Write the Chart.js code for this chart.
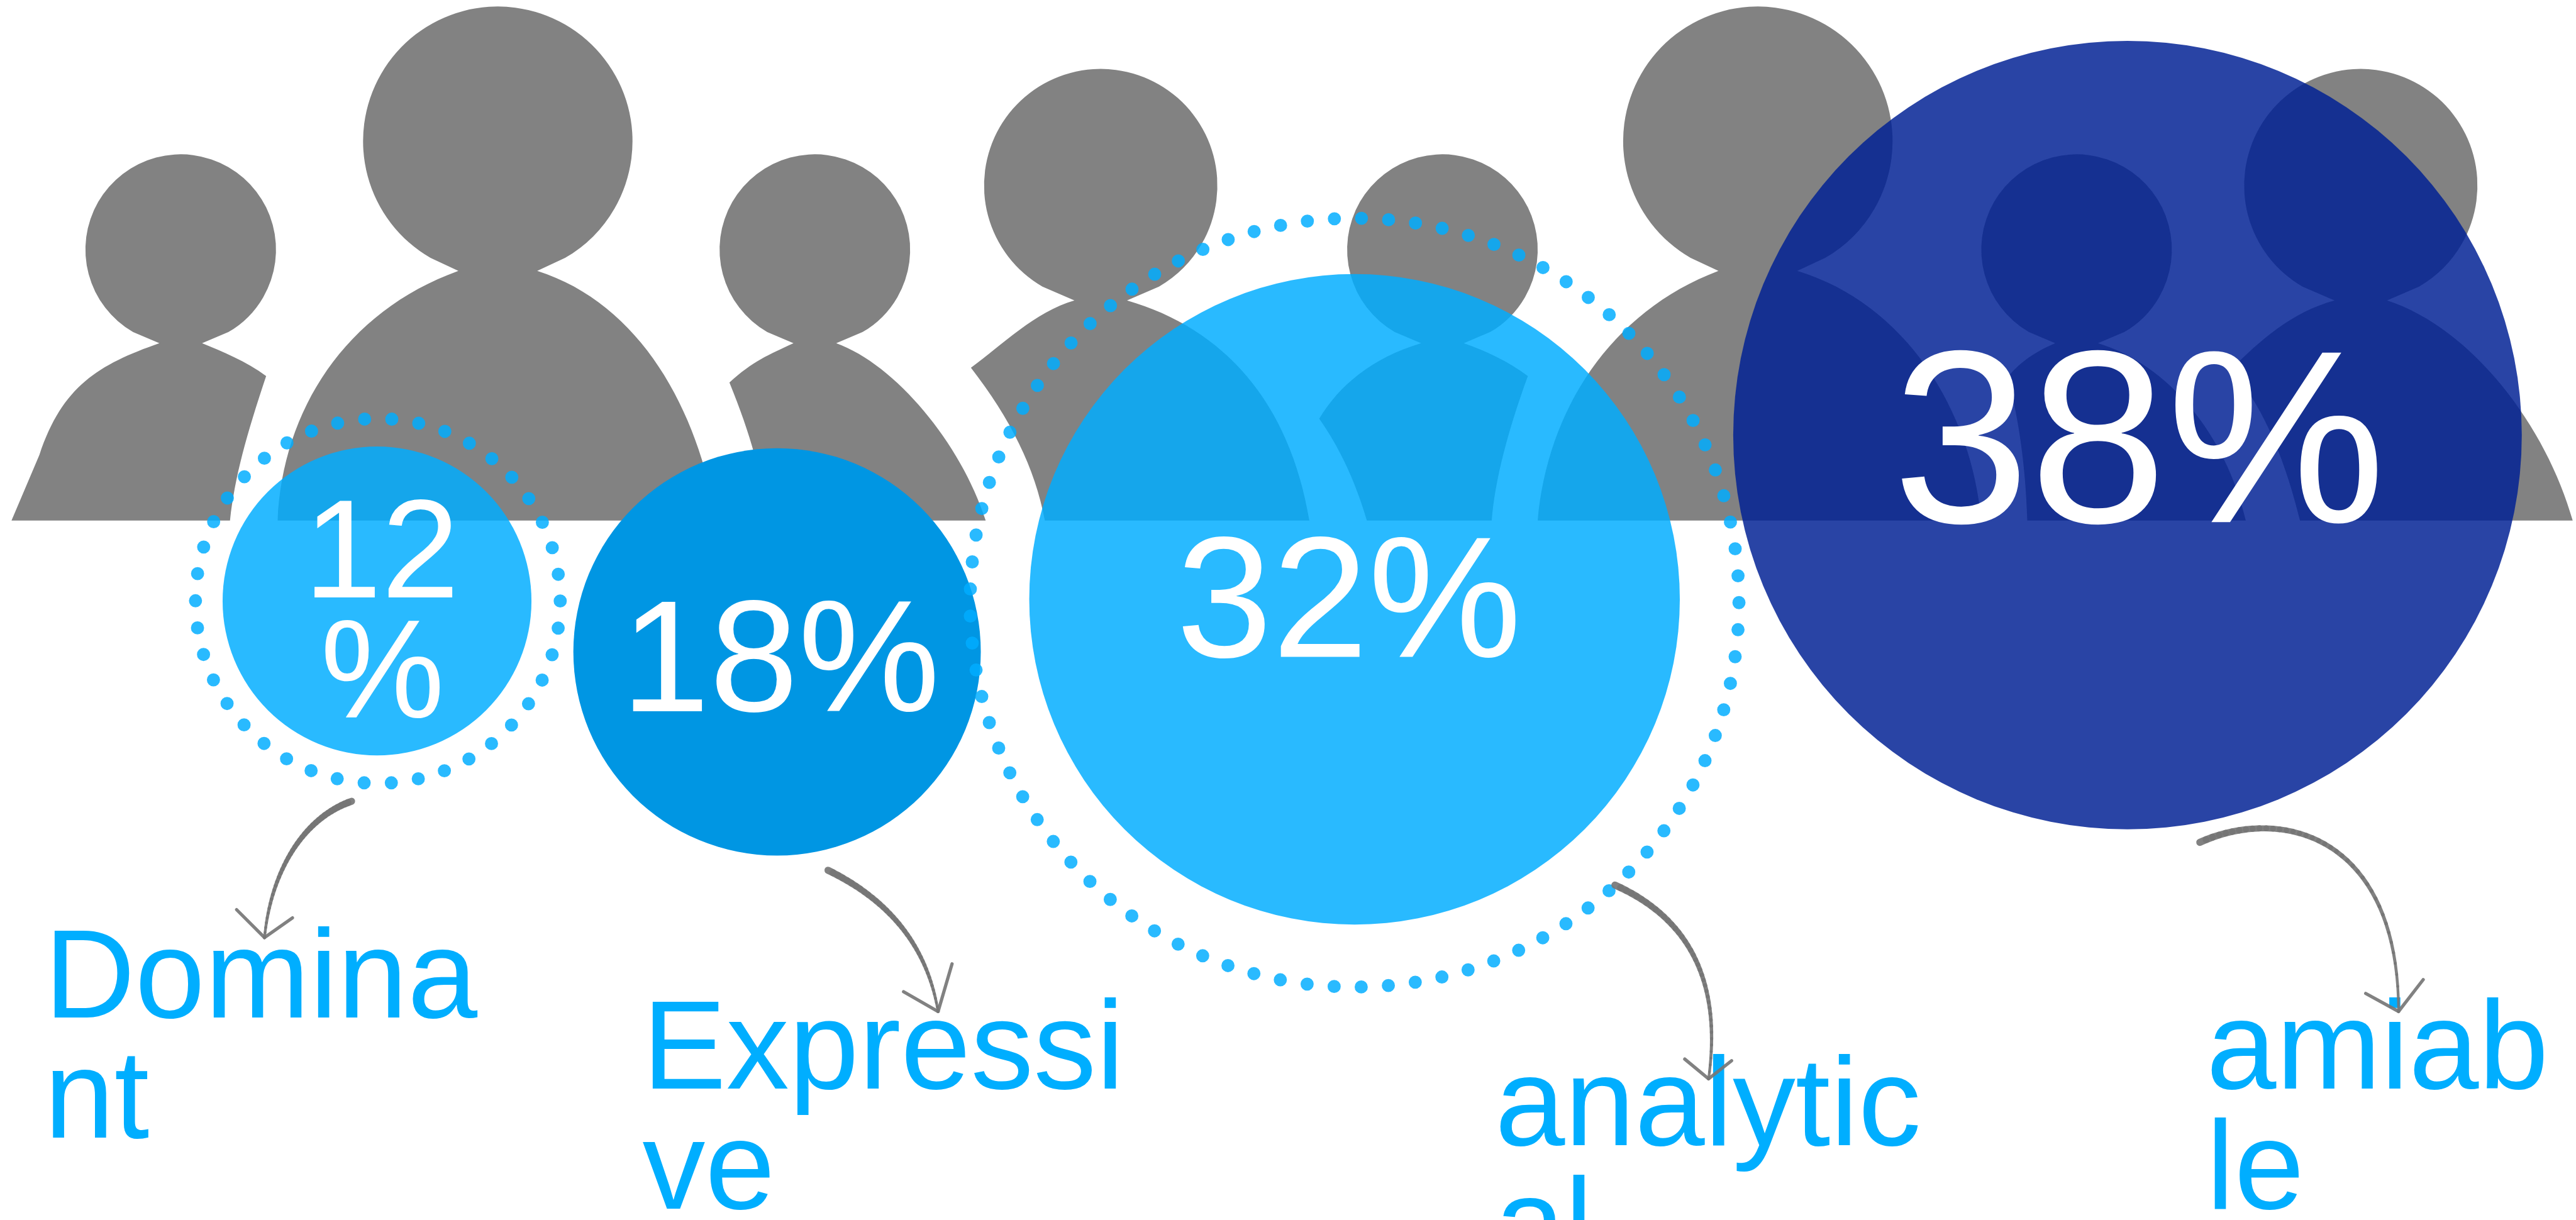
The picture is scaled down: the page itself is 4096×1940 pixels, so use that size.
<!DOCTYPE html>
<html>
<head>
<meta charset="utf-8">
<title>Personality types</title>
<script src="https://cdn.jsdelivr.net/npm/chart.js@4/dist/chart.umd.min.js"></script>
<style>
    html, body { margin: 0; padding: 0; background: #fff; overflow: hidden; }
    #wrap { width: 100vw; height: 100vh; }
</style>
</head>
<body>
<div id="wrap"><canvas id="typesChart"></canvas></div>
<script>
// Chart values
const categories = ['Dominant', 'Expressive', 'analytical', 'amiable'];
const shares = [12, 18, 32, 38];
const bubbleX = [229.5, 473, 824.5, 1295];
const bubbleY = [366, 397, 365, 265];
const bubbleSize = [94, 124, 198, 240];

// Text breaks
const shareBreaks = [['12', '%'], ['18%'], ['32%'], ['38%']];
const categoryBreaks = [['Domina', 'nt'], ['Expressi', 've'], ['analytic', 'al'], ['amiab', 'le']];

const colors = ['rgba(0,173,255,0.84)', 'rgb(0,150,227)', 'rgba(0,173,255,0.84)', 'rgba(0,32,148,0.84)'];

// Everything below is laid out on a 1568 x 743 grid
const GRID_W = 1568;
const GRID_H = 743;
const unit = window.innerWidth / GRID_W;

// [x, baseline, font size] per bubble
const shareText = [
    { x: 185, y: [364, 437], size: 85, xs: [185, 195] },
    { x: 378, y: [433], size: 97 },
    { x: 716, y: [400], size: 105 },
    { x: 1152, y: [318], size: 150 }
];
const categoryText = [
    { x: 27, y: [619.5, 693] },
    { x: 391, y: [663, 736] },
    { x: 910, y: [697.5, 771] },
    { x: 1343, y: [663, 736] }
];

// dotted rings around two of the bubbles
const rings = [
    { cx: 230, cy: 366, r: 111, dots: 42 },
    { cx: 824.5, cy: 367, r: 234, dots: 89 }
];

// head plus body edges; an edge is a cubic [start, c1, c2, end] or a straight [start, end]
const people = [
    { head: [110, 152, 58],
      left: [[[7, 317], [24, 277]], [[24, 277], [38, 235], [60, 222], [97, 209]]],
      right: [[[123, 209], [135, 214], [150, 220], [162, 229]], [[162, 229], [150, 265], [143, 290], [140, 317]]] },
    { head: [496, 152, 58],
      left: [[[467, 317], [464, 290], [457, 265], [444, 233]], [[444, 233], [458, 220], [468, 216], [483, 209]]],
      right: [[[509, 209], [545, 222], [585, 270], [600, 317]]] },
    { head: [670, 113, 71],
      left: [[[636, 317], [630, 285], [615, 255], [591, 224]], [[591, 224], [610, 210], [630, 190], [654, 183]]],
      right: [[[686, 183], [745, 200], [785, 245], [797, 317]]] },
    { head: [878, 152, 58],
      left: [[[832, 317], [825, 293], [815, 272], [803, 255]], [[803, 255], [815, 235], [835, 218], [865, 209]]],
      right: [[[891, 209], [905, 214], [918, 220], [930, 229]], [[930, 229], [918, 262], [910, 292], [908, 317]]] },
    { head: [1264, 152, 58],
      left: [[[1234, 317], [1233, 285], [1229, 255], [1222, 230]], [[1222, 230], [1228, 222], [1237, 215], [1251, 209]]],
      right: [[[1277, 209], [1320, 222], [1355, 265], [1367, 317]]] },
    { head: [1437, 113, 71],
      left: [[[1400, 317], [1392, 285], [1380, 250], [1358, 225]], [[1358, 225], [1375, 208], [1395, 190], [1421, 183]]],
      right: [[[1453, 183], [1505, 200], [1550, 260], [1566, 317]]] },
    { head: [303, 86, 82],
      left: [[[169, 317], [172, 250], [210, 190], [279, 165]]],
      right: [[[327, 165], [390, 185], [425, 250], [436, 317]]] },
    { head: [1070, 86, 82],
      left: [[[936, 317], [942, 250], [980, 190], [1046, 165]]],
      right: [[[1094, 165], [1160, 185], [1200, 250], [1206, 317]]] }
];

// hand drawn arrows: cubic curve plus the two barbs at its tip
const arrows = [
    { curve: [[214, 488], [185, 498], [165, 530], [161, 571]], barbs: [[144, 554], [178, 559]] },
    { curve: [[504, 530], [545, 550], [565, 580], [571, 616]], barbs: [[550, 604], [579.5, 587]] },
    { curve: [[983, 539], [1030, 560], [1048, 600], [1040, 657]], barbs: [[1025.5, 645], [1054, 646]] },
    { curve: [[1339, 513], [1390, 490], [1460, 510], [1460, 616]], barbs: [[1440, 605], [1475, 596.6]] }
];

function traceEdge(ctx, edge, px) {
    const p = edge.map(px);
    ctx.lineTo(p[0].x, p[0].y);
    if (p.length === 2) {
        ctx.lineTo(p[1].x, p[1].y);
    } else {
        ctx.bezierCurveTo(p[1].x, p[1].y, p[2].x, p[2].y, p[3].x, p[3].y);
    }
}

const peoplePlugin = {
    id: 'people',
    beforeDatasetsDraw(chart) {
        const { ctx, scales: { x, y } } = chart;
        const px = p => ({ x: x.getPixelForValue(p[0]), y: y.getPixelForValue(p[1]) });
        ctx.save();
        ctx.fillStyle = '#828282';
        people.forEach(person => {
            const [cx, cy, r] = person.head;
            const c = px([cx, cy]);
            const start = px(person.left[0][0]);
            ctx.beginPath();
            ctx.moveTo(start.x, start.y);
            person.left.forEach(edge => traceEdge(ctx, edge, px));
            ctx.arc(c.x, c.y, r * unit, Math.PI * 2 / 3, Math.PI / 3, false);
            person.right.forEach(edge => traceEdge(ctx, edge, px));
            ctx.closePath();
            ctx.fill();
        });
        ctx.restore();
    }
};

const overlayPlugin = {
    id: 'overlay',
    afterDatasetsDraw(chart) {
        const { ctx, scales: { x, y } } = chart;
        const px = p => ({ x: x.getPixelForValue(p[0]), y: y.getPixelForValue(p[1]) });

        // rings: zero length dashes with round caps give the dots
        ctx.save();
        ctx.lineCap = 'round';
        ctx.lineWidth = 8 * unit;
        ctx.strokeStyle = colors[0];
        rings.forEach(ring => {
            const c = px([ring.cx, ring.cy]);
            const radius = ring.r * unit;
            ctx.setLineDash([0, 2 * Math.PI * radius / ring.dots]);
            ctx.beginPath();
            ctx.arc(c.x, c.y, radius, 0, Math.PI * 2);
            ctx.stroke();
        });
        ctx.restore();

        ctx.save();
        ctx.textBaseline = 'alphabetic';
        ctx.textAlign = 'left';

        // value inside each bubble
        ctx.fillStyle = '#fff';
        shareBreaks.forEach((lines, i) => {
            const t = shareText[i];
            ctx.font = (t.size * unit) + 'px "Liberation Sans"';
            lines.forEach((line, j) => {
                const lineX = t.xs ? t.xs[j] : t.x;
                ctx.fillText(line, x.getPixelForValue(lineX), y.getPixelForValue(t.y[j]));
            });
        });

        // category names
        ctx.fillStyle = '#00aeff';
        ctx.font = (76.5 * unit) + 'px "Liberation Sans"';
        categoryBreaks.forEach((lines, i) => {
            const t = categoryText[i];
            lines.forEach((line, j) => {
                ctx.fillText(line, x.getPixelForValue(t.x), y.getPixelForValue(t.y[j]));
            });
        });
        ctx.restore();

        // arrows taper off towards the tip
        ctx.save();
        ctx.strokeStyle = 'rgba(118,118,118,0.92)';
        ctx.lineCap = 'round';
        arrows.forEach(arrow => {
            const [a, b, c, d] = arrow.curve.map(px);
            const steps = 40;
            let prev = a;
            for (let i = 1; i <= steps; i++) {
                const t = i / steps;
                const m = 1 - t;
                const p = {
                    x: m * m * m * a.x + 3 * m * m * t * b.x + 3 * m * t * t * c.x + t * t * t * d.x,
                    y: m * m * m * a.y + 3 * m * m * t * b.y + 3 * m * t * t * c.y + t * t * t * d.y
                };
                ctx.lineWidth = (4.4 - 2.8 * t) * unit;
                ctx.beginPath();
                ctx.moveTo(prev.x, prev.y);
                ctx.lineTo(p.x, p.y);
                ctx.stroke();
                prev = p;
            }
            ctx.lineWidth = 2 * unit;
            arrow.barbs.forEach(barb => {
                const q = px(barb);
                ctx.beginPath();
                ctx.moveTo(q.x, q.y);
                ctx.lineTo(d.x, d.y);
                ctx.stroke();
            });
        });
        ctx.restore();
    }
};

const chartConfig = {
    type: 'bubble',
    data: {
        labels: categories,
        datasets: [{
            label: 'Share',
            data: shares.map((share, i) => ({
                x: bubbleX[i],
                y: bubbleY[i],
                r: bubbleSize[i] * unit,
                share: share
            })),
            backgroundColor: colors,
            borderWidth: 0,
            hoverBorderWidth: 0,
            clip: false
        }]
    },
    options: {
        responsive: true,
        maintainAspectRatio: false,
        animation: false,
        // bubbles would otherwise shrink the plot area to fit their radius
        layout: { autoPadding: false, padding: 0 },
        scales: {
            x: { type: 'linear', display: false, min: 0, max: GRID_W },
            y: { type: 'linear', display: false, min: 0, max: GRID_H, reverse: true }
        },
        plugins: {
            legend: { display: false },
            tooltip: { enabled: false }
        }
    },
    plugins: [peoplePlugin, overlayPlugin]
};

const typesChart = new Chart(document.getElementById('typesChart').getContext('2d'), chartConfig);
</script>
</body>
</html>
